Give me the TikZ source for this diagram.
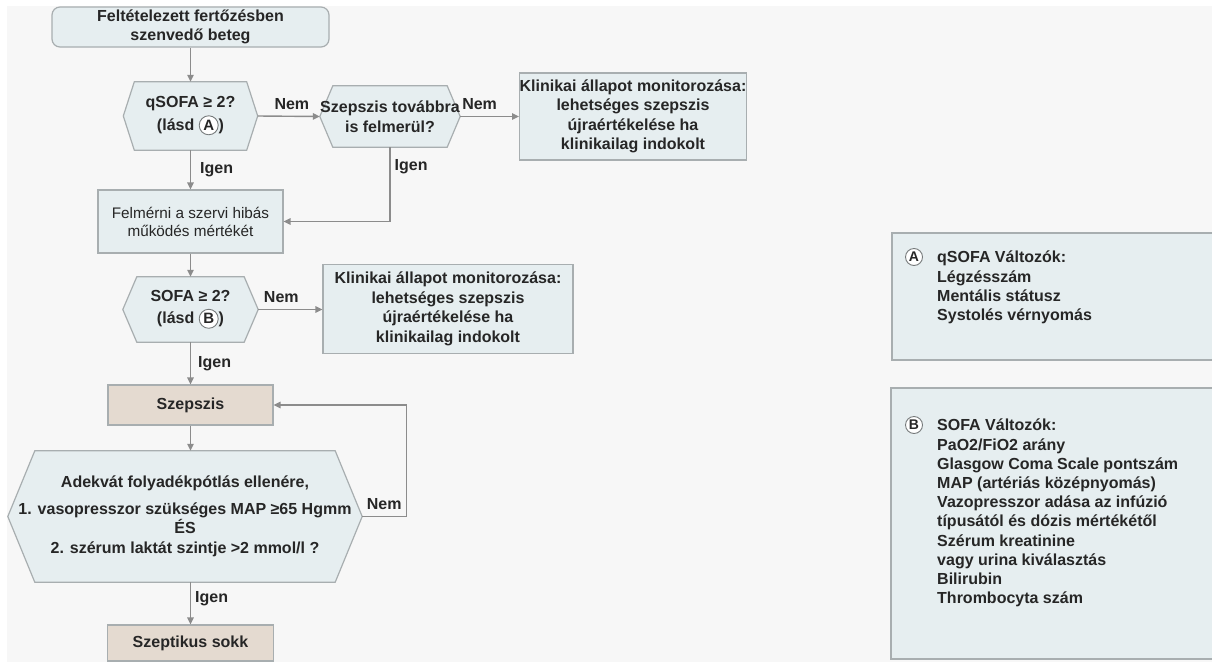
\documentclass[tikz,border=0pt]{standalone}
\usepackage{fontspec}
\setmainfont{Liberation Sans}
\usetikzlibrary{arrows.meta,calc,backgrounds}

\definecolor{bgcol}{HTML}{F7F7F7}
\definecolor{boxfill}{HTML}{E6EEF0}
\definecolor{boxline}{HTML}{A8AEB0}
\definecolor{tanfill}{HTML}{E4DAD0}
\definecolor{txtcol}{HTML}{262626}
\definecolor{arrcol}{HTML}{8C8C8C}

\newcommand\circl[1]{\tikz[baseline=(cc.base)]\node[circ](cc){#1};}
\newcommand\hexdraw[2]{\path[hexshape] (#1.west) -- ($(#1.north west)+(#2,0)$) -- ($(#1.north east)+(-#2,0)$) -- (#1.east) -- ($(#1.south east)+(-#2,0)$) -- ($(#1.south west)+(#2,0)$) -- cycle;}

\begin{document}
\begin{tikzpicture}[x=1pt,y=-1pt,
 every node/.style={text=txtcol, font=\fontsize{16}{19.5}\selectfont\bfseries},
 box/.style={draw=boxline, fill=boxfill, line width=1.2pt, inner sep=0pt, align=center},
 tanbox/.style={box, fill=tanfill},
 hexn/.style={inner sep=0pt, align=center},
 hexshape/.style={draw=boxline, fill=boxfill, line width=1.2pt},
 conn/.style={draw=arrcol, line width=1.4pt, -{Triangle[length=7pt,width=6.5pt]}},
 lab/.style={inner sep=0pt},
 circ/.style={circle, draw=boxline!70!black, fill=white, line width=0.9pt, inner sep=0pt, minimum size=19pt, font=\fontsize{15}{15}\selectfont\bfseries},
 legtext/.style={inner sep=0pt, align=left, anchor=north west, font=\fontsize{16}{19.2}\selectfont\bfseries}
]
\useasboundingbox (0,0) rectangle (1212,662);
\begin{scope}[on background layer]
\fill[white] (0,0) rectangle (1212,662);
\fill[bgcol] (7,6) rectangle (1212,662);
\end{scope}

% nodes
\node[box, rounded corners=8pt, minimum width=277pt, minimum height=40pt] (top) at (190.5,27) {Feltételezett fertőzésben\\szenvedő beteg};
\node[hexn, minimum width=134pt, minimum height=68pt] (q) at (190.5,116) {qSOFA ≥ 2?\\[3pt](lásd \circl{A})};
\node[hexn, minimum width=140pt, minimum height=61pt] (s2) at (390,116.5) {Szepszis továbbra\\is felmerül?};
\node[box, minimum width=224pt, minimum height=87pt] (k1) at (633,116.5) {Klinikai állapot monitorozása:\\lehetséges szepszis\\újraértékelése ha\\klinikailag indokolt};
\node[box, minimum width=185pt, minimum height=63pt, font=\fontsize{15.3}{18}\selectfont] (f) at (190.5,221.5) {Felmérni a szervi hibás\\működés mértékét};
\node[hexn, minimum width=135pt, minimum height=65pt] (sofa) at (190.5,309.5) {SOFA ≥ 2?\\[3pt](lásd \circl{B})};
\node[box, minimum width=250pt, minimum height=89pt] (k2) at (448,309) {Klinikai állapot monitorozása:\\lehetséges szepszis\\újraértékelése ha\\klinikailag indokolt};
\node[tanbox, minimum width=165pt, minimum height=40pt] (sz) at (190.5,405) {Szepszis};
\node[hexn, minimum width=354pt, minimum height=131pt] (big) at (185,516.5) {Adekvát folyadékpótlás ellenére,\\[7pt]1. vasopresszor szükséges MAP ≥65 Hgmm\\ÉS\\2. szérum laktát szintje >2 mmol/l ?};
\node[tanbox, minimum width=166pt, minimum height=36pt] (so) at (190.5,643) {Szeptikus sokk};

% legend boxes
\node[box, minimum width=322pt, minimum height=127pt] (boxA) at (1053,296.5) {};
\node[box, minimum width=323pt, minimum height=271pt] (boxB) at (1052.5,523.5) {};
\node[circ, minimum size=17pt, font=\fontsize{14}{14}\selectfont\bfseries] (cA) at (914,257) {A};
\node[legtext] (tA) at (937,251) {qSOFA Változók:\\Légzésszám\\Mentális státusz\\Systolés vérnyomás};
\node[circ, minimum size=17pt, font=\fontsize{14}{14}\selectfont\bfseries] (cB) at (914,425) {B};
\node[legtext] (tB) at (937,419) {SOFA Változók:\\PaO2/FiO2 arány\\Glasgow Coma Scale pontszám\\MAP (artériás középnyomás)\\Vazopresszor adása az infúzió\\típusától és dózis mértékétől\\Szérum kreatinine\\vagy urina kiválasztás\\Bilirubin\\Thrombocyta szám};

% hexagon outlines
\begin{scope}[on background layer]
\hexdraw{q}{11}
\hexdraw{s2}{13}
\hexdraw{sofa}{14}
\hexdraw{big}{27}
\end{scope}

% connectors
\draw[conn] (top.south) -- (q.north);
\draw[conn] (q.east) -- node[lab, pos=0.55, above=6pt] {Nem} (s2.west);
\draw[conn] (s2.east) -- node[lab, pos=0.33, above=6pt] {Nem} (k1.west);
\draw[conn] (q.south) -- node[lab, midway, right=9pt] {Igen} (f.north);
\draw[conn] (s2.south) |- node[lab, pos=0.13, right=4pt] {Igen} (f.east);
\draw[conn] (f.south) -- (sofa.north);
\draw[conn] (sofa.east) -- node[lab, pos=0.36, above=6pt] {Nem} (sofa.east -| k2.west);
\draw[conn] (sofa.south) -- node[lab, midway, right=7pt] {Igen} (sz.north);
\draw[conn] (sz.south) -- (sz.south |- big.north);
\draw[conn] (big.east) -- node[lab, midway, above=6pt] {Nem} ++(44,0) |- (sz.east);
\draw[conn] (so.north |- big.south) -- node[lab, pos=0.4, right=4pt] {Igen} (so.north);
\end{tikzpicture}
\end{document}
